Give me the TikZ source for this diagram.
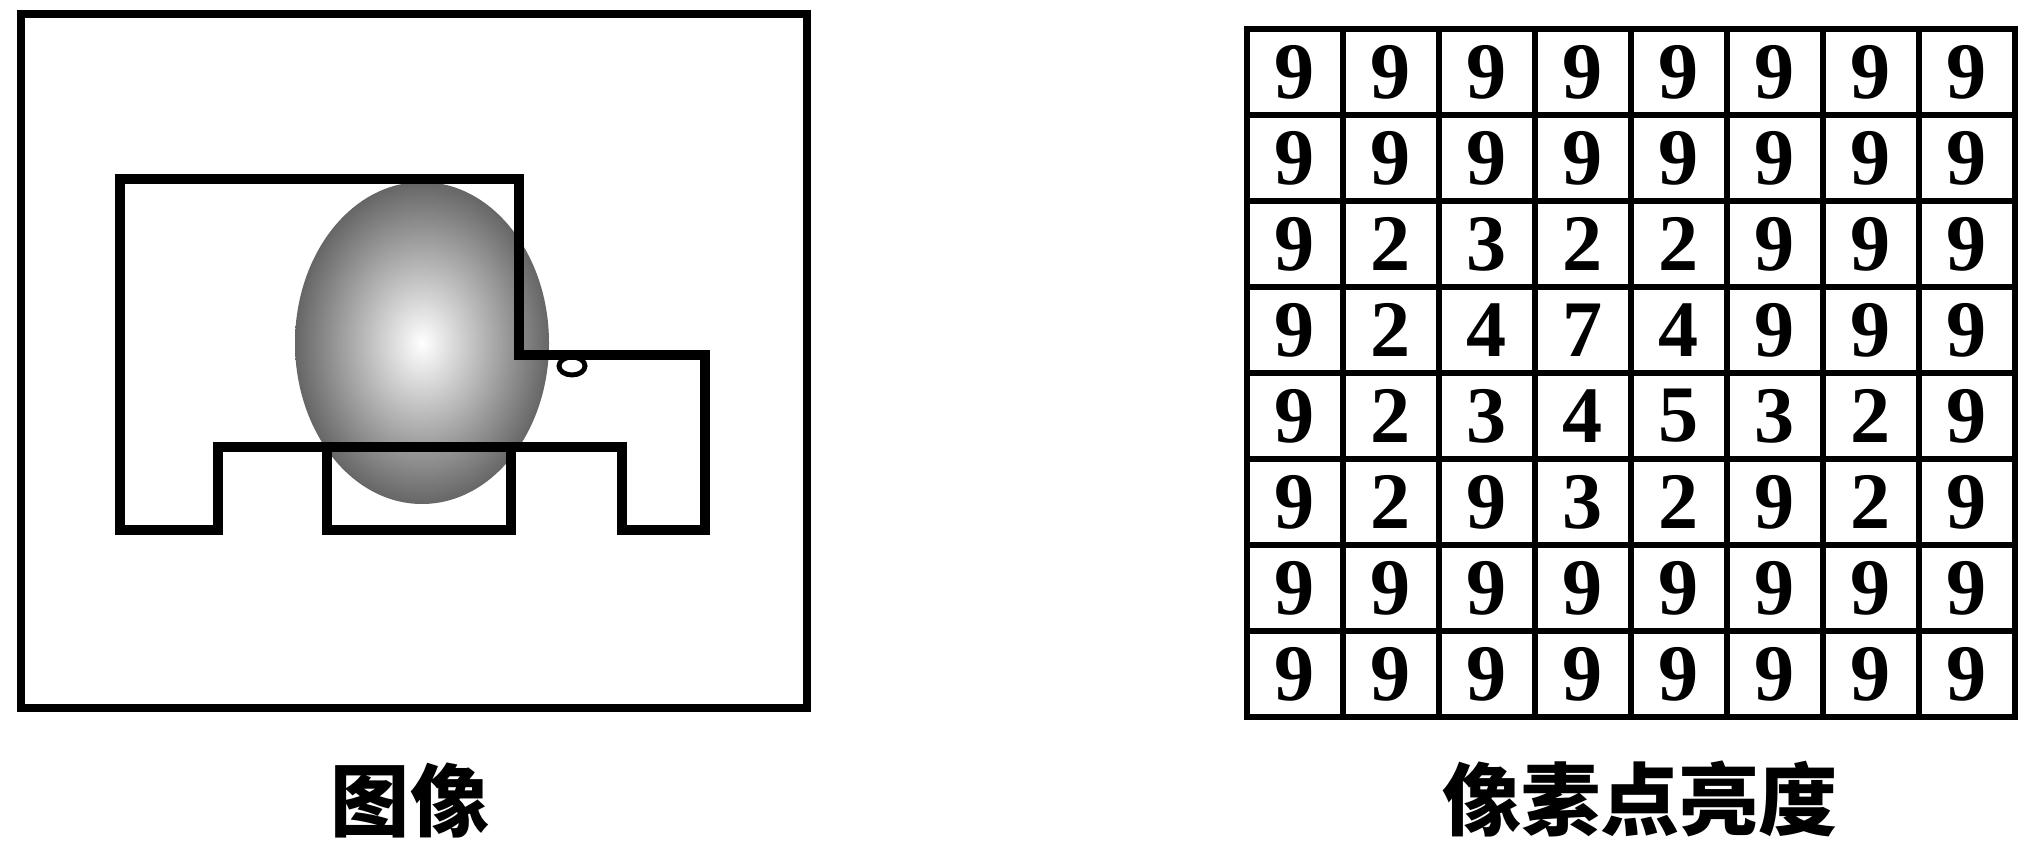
\documentclass[tikz,border=0pt]{standalone}
\usepackage{fontspec}
\setmainfont{Liberation Serif}
\newfontfamily\cjk{Noto Sans CJK SC}

\begin{document}
\begin{tikzpicture}[x=0.01cm,y=-0.01cm,
    cell/.style={draw,line width=1.7pt,minimum width=0.96cm,minimum height=0.86cm,
      inner sep=0pt,font=\fontsize{22.8pt}{24pt}\selectfont\bfseries},
    title/.style={font=\cjk\bfseries\fontsize{22.5pt}{25pt}\selectfont}]
  \useasboundingbox (0,0) rectangle (2037,858);
  % left: the image
  \draw[line width=2.3pt] (21,14) rectangle (807,708);
  \shade[inner color=white,outer color=black!60] (422,343) ellipse [x radius=127,y radius=161];
  \draw[line width=1.4pt,fill=white] (572,366) ellipse [x radius=13,y radius=9];
  \draw[line width=2.8pt] (120,179) -- (519,179) -- (519,355) -- (705,355) -- (705,530)
    -- (622,530) -- (622,447) -- (511,447) -- (511,530) -- (327,530) -- (327,447)
    -- (218,447) -- (218,530) -- (120,530) -- cycle;
  \draw[line width=2.8pt] (327,447) -- (511,447);
  \node[title] (imgtitle) at (410,801) {图像};
  % right: brightness of the pixels
  \foreach \row [count=\r] in {{9,9,9,9,9,9,9,9},{9,9,9,9,9,9,9,9},{9,2,3,2,2,9,9,9},
      {9,2,4,7,4,9,9,9},{9,2,3,4,5,3,2,9},{9,2,9,3,2,9,2,9},
      {9,9,9,9,9,9,9,9},{9,9,9,9,9,9,9,9}}{
    \foreach \v [count=\c] in \row{
      \node[cell] (c\r\c) at (1199+96*\c,-14+86*\r) {\v};}}
  \node[title] (lumtitle) at (1640,799) {像素点亮度};
\end{tikzpicture}
\end{document}
